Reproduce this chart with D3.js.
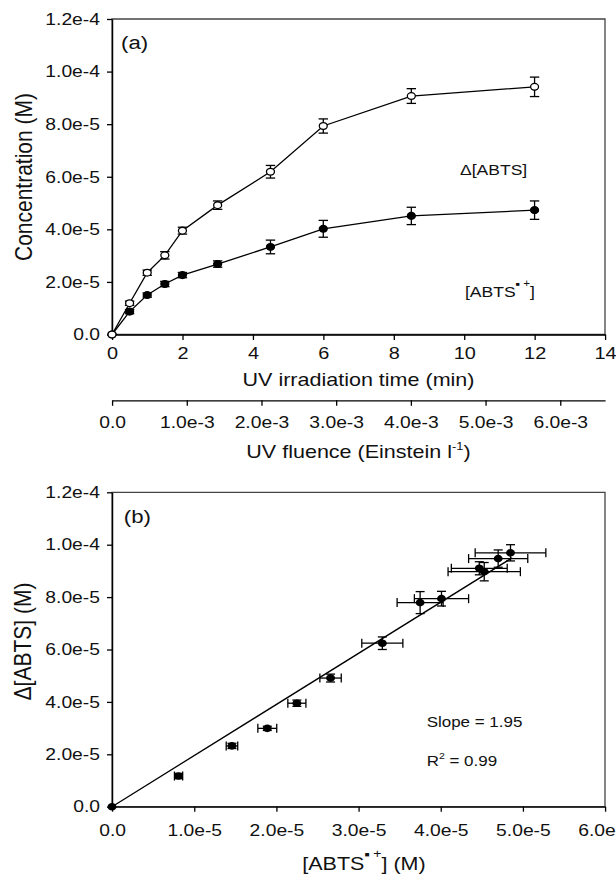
<!DOCTYPE html>
<html>
<head>
<meta charset="utf-8">
<script src="https://cdn.jsdelivr.net/npm/d3@7"></script>
<style>
  body { margin: 0; background: #fff; }
  svg line, svg path, svg rect, svg circle { vector-effect: non-scaling-stroke; }
</style>
</head>
<body>
<script>
// ---- data (a): concentrations vs UV irradiation time
const timeMin = [0, 0.5, 1, 1.5, 2, 3, 4.5, 6, 8.5, 12];
const deltaAbts = [0, 1.19e-5, 2.35e-5, 3.01e-5, 3.95e-5, 4.92e-5, 6.19e-5, 7.93e-5, 9.07e-5, 9.42e-5];
const deltaAbtsErr = [0, 0.8e-6, 1.0e-6, 1.4e-6, 1.3e-6, 1.6e-6, 2.4e-6, 2.7e-6, 2.8e-6, 3.7e-6];
const radical = [0, 0.87e-5, 1.50e-5, 1.92e-5, 2.26e-5, 2.68e-5, 3.33e-5, 4.02e-5, 4.51e-5, 4.73e-5];
const radicalErr = [0, 0.8e-6, 0.8e-6, 1.0e-6, 1.0e-6, 1.2e-6, 2.6e-6, 3.2e-6, 3.3e-6, 3.5e-6];

// ---- data (b): delta[ABTS] vs [ABTS.+]
const corrX = [0, 0.81e-5, 1.46e-5, 1.89e-5, 2.25e-5, 2.66e-5, 3.29e-5, 3.75e-5, 4.01e-5, 4.47e-5, 4.53e-5, 4.70e-5, 4.85e-5];
const corrXErr = [0, 0.05e-5, 0.07e-5, 0.115e-5, 0.11e-5, 0.13e-5, 0.25e-5, 0.28e-5, 0.33e-5, 0.34e-5, 0.44e-5, 0.36e-5, 0.43e-5];
const corrY = [0, 1.17e-5, 2.32e-5, 2.99e-5, 3.95e-5, 4.91e-5, 6.24e-5, 7.79e-5, 7.94e-5, 9.10e-5, 8.97e-5, 9.47e-5, 9.69e-5];
const corrYErr = [0, 0.1e-5, 0.1e-5, 0.08e-5, 0.12e-5, 0.15e-5, 0.24e-5, 0.42e-5, 0.28e-5, 0.25e-5, 0.35e-5, 0.33e-5, 0.31e-5];
const fitX = [0, 4.87e-5];
const fitY = [0, 9.5e-5];

// ---- ticks
const concTicks = [0, 2e-5, 4e-5, 6e-5, 8e-5, 1e-4, 1.2e-4];
const concTickLabels = ["0.0", "2.0e-5", "4.0e-5", "6.0e-5", "8.0e-5", "1.0e-4", "1.2e-4"];
const timeTicks = [0, 2, 4, 6, 8, 10, 12, 14];
const fluenceTicks = [0, 1e-3, 2e-3, 3e-3, 4e-3, 5e-3, 6e-3];
const fluenceTickLabels = ["0.0", "1.0e-3", "2.0e-3", "3.0e-3", "4.0e-3", "5.0e-3", "6.0e-3"];
const radTicks = [0, 1e-5, 2e-5, 3e-5, 4e-5, 5e-5, 6e-5];
const radTickLabels = ["0.0", "1.0e-5", "2.0e-5", "3.0e-5", "4.0e-5", "5.0e-5", "6.0e-5"];

// the source figure is a bit wider than tall, so stretch the drawing horizontally
const K = 1.17;
const W = 616, H = 878;
const hx = v => v / K;
const FONT = "'Liberation Sans', Arial, Helvetica, sans-serif";
const TICK_FONT = 16.5;

const svg = d3.select("body")
  .append("svg")
  .attr("width", W)
  .attr("height", H)
  .attr("viewBox", `0 0 ${W / K} ${H}`)
  .attr("preserveAspectRatio", "none")
  .style("font-family", FONT)
  .attr("fill", "#111");

const left = hx(112), right = hx(605);

// scales
const xTime = d3.scaleLinear().domain([0, 14]).range([left, right]);
const xFluence = d3.scaleLinear().domain([0, 6.6e-3]).range([left, right]);
const yTop = d3.scaleLinear().domain([0, 1.2e-4]).range([334.5, 19]);
const xRad = d3.scaleLinear().domain([0, 6e-5]).range([left, right]);
const yBot = d3.scaleLinear().domain([0, 1.2e-4]).range([806.7, 492.3]);

function styleAxis(g, size) {
  g.select(".domain").attr("stroke", "#000").attr("stroke-width", 1.3);
  g.selectAll(".tick line").attr("stroke", "#000").attr("stroke-width", 1.3);
  g.selectAll(".tick text")
    .attr("font-family", FONT)
    .attr("font-size", size)
    .attr("fill", "#111");
}

function frame(yScale) {
  svg.append("rect")
    .attr("x", left)
    .attr("y", yScale.range()[1])
    .attr("width", right - left)
    .attr("height", yScale.range()[0] - yScale.range()[1])
    .attr("fill", "none")
    .attr("stroke", "#444")
    .attr("stroke-width", 1.3);
}

// ================= panel (a) =================
frame(yTop);

svg.append("g")
  .attr("transform", `translate(${left},0)`)
  .call(d3.axisLeft(yTop).tickValues(concTicks).tickFormat((d, i) => concTickLabels[i])
    .tickSize(hx(5)).tickSizeOuter(0).tickPadding(hx(7)))
  .call(g => styleAxis(g, TICK_FONT));

svg.append("g")
  .attr("transform", `translate(0,${yTop(0)})`)
  .call(d3.axisBottom(xTime).tickValues(timeTicks).tickFormat(d3.format("d"))
    .tickSize(5.5).tickSizeOuter(0).tickPadding(7))
  .call(g => styleAxis(g, 17));

svg.append("g")
  .attr("transform", "translate(0,400.3)")
  .call(d3.axisBottom(xFluence).tickValues(fluenceTicks).tickFormat((d, i) => fluenceTickLabels[i])
    .tickSize(5.5).tickSizeOuter(0).tickPadding(10))
  .call(g => styleAxis(g, TICK_FONT));

function drawSeries(values, errors, filled) {
  const pts = timeMin.map((t, i) => ({ t: t, v: values[i], e: errors[i] }));

  svg.append("path")
    .datum(pts)
    .attr("d", d3.line().x(d => xTime(d.t)).y(d => yTop(d.v)))
    .attr("fill", "none")
    .attr("stroke", "#000")
    .attr("stroke-width", 1.3);

  const bars = svg.append("g")
    .attr("stroke", "#000")
    .attr("stroke-width", 1.3)
    .selectAll("g")
    .data(pts.filter(d => d.e > 0))
    .join("g");
  bars.append("line")
    .attr("x1", d => xTime(d.t)).attr("x2", d => xTime(d.t))
    .attr("y1", d => yTop(d.v - d.e)).attr("y2", d => yTop(d.v + d.e));
  for (const sign of [-1, 1]) {
    bars.append("line")
      .attr("x1", d => xTime(d.t) - hx(4.7)).attr("x2", d => xTime(d.t) + hx(4.7))
      .attr("y1", d => yTop(d.v + sign * d.e)).attr("y2", d => yTop(d.v + sign * d.e));
  }

  svg.append("g")
    .selectAll("circle")
    .data(pts)
    .join("circle")
    .attr("cx", d => xTime(d.t))
    .attr("cy", d => yTop(d.v))
    .attr("r", 3.4)
    .attr("fill", filled ? "#000" : "#fff")
    .attr("stroke", "#000")
    .attr("stroke-width", 1.3);
}

drawSeries(radical, radicalErr, true);
drawSeries(deltaAbts, deltaAbtsErr, false);

// titles and labels (a)
svg.append("text")
  .attr("x", hx(121)).attr("y", 49.5)
  .attr("font-size", 19)
  .text("(a)");

svg.append("text")
  .attr("x", hx(460)).attr("y", 175)
  .attr("font-size", 15)
  .text("Δ[ABTS]");

const radLabel = svg.append("text")
  .attr("x", hx(465)).attr("y", 296.7)
  .attr("font-size", 15);
radLabel.append("tspan").text("[ABTS");
radLabel.append("tspan").attr("font-size", 6).attr("dy", -11).text("■");
radLabel.append("tspan").attr("font-size", 10).attr("dy", 1).text(" +");
radLabel.append("tspan").attr("dy", 10).text("]");

svg.append("text")
  .attr("x", hx(358.5)).attr("y", 386)
  .attr("text-anchor", "middle")
  .attr("font-size", 18.4)
  .text("UV irradiation time (min)");

const fluTitle = svg.append("text")
  .attr("x", hx(358.5)).attr("y", 458)
  .attr("text-anchor", "middle")
  .attr("font-size", 18.4);
fluTitle.append("tspan").text("UV fluence (Einstein l");
fluTitle.append("tspan").attr("font-size", 11).attr("dy", -8).text("-1");
fluTitle.append("tspan").attr("dy", 8).text(")");

svg.append("text")
  .attr("transform", `translate(${hx(31.5)},177) rotate(-90)`)
  .attr("text-anchor", "middle")
  .attr("font-size", 21)
  .text("Concentration (M)");

// ================= panel (b) =================
frame(yBot);

svg.append("g")
  .attr("transform", `translate(${left},0)`)
  .call(d3.axisLeft(yBot).tickValues(concTicks).tickFormat((d, i) => concTickLabels[i])
    .tickSize(hx(5)).tickSizeOuter(0).tickPadding(hx(7)))
  .call(g => styleAxis(g, TICK_FONT));

svg.append("g")
  .attr("transform", `translate(0,${yBot(0)})`)
  .call(d3.axisBottom(xRad).tickValues(radTicks).tickFormat((d, i) => radTickLabels[i])
    .tickSize(5).tickSizeOuter(0).tickPadding(12.5))
  .call(g => styleAxis(g, TICK_FONT));

// fitted line
svg.append("path")
  .datum(fitX.map((x, i) => [x, fitY[i]]))
  .attr("d", d3.line().x(d => xRad(d[0])).y(d => yBot(d[1])))
  .attr("fill", "none")
  .attr("stroke", "#000")
  .attr("stroke-width", 1.3);

const corr = corrX.map((x, i) => ({ x: x, y: corrY[i], ex: corrXErr[i], ey: corrYErr[i] }));

const errG = svg.append("g").attr("stroke", "#000").attr("stroke-width", 1.3);
const withErr = corr.filter(d => d.ex > 0 || d.ey > 0);
// horizontal bars
const hb = errG.append("g").selectAll("g").data(withErr).join("g");
hb.append("line")
  .attr("x1", d => xRad(d.x - d.ex)).attr("x2", d => xRad(d.x + d.ex))
  .attr("y1", d => yBot(d.y)).attr("y2", d => yBot(d.y));
for (const sign of [-1, 1]) {
  hb.append("line")
    .attr("x1", d => xRad(d.x + sign * d.ex)).attr("x2", d => xRad(d.x + sign * d.ex))
    .attr("y1", d => yBot(d.y) - 4.5).attr("y2", d => yBot(d.y) + 4.5);
}
// vertical bars
const vb = errG.append("g").selectAll("g").data(withErr).join("g");
vb.append("line")
  .attr("x1", d => xRad(d.x)).attr("x2", d => xRad(d.x))
  .attr("y1", d => yBot(d.y - d.ey)).attr("y2", d => yBot(d.y + d.ey));
for (const sign of [-1, 1]) {
  vb.append("line")
    .attr("x1", d => xRad(d.x) - hx(4.5)).attr("x2", d => xRad(d.x) + hx(4.5))
    .attr("y1", d => yBot(d.y + sign * d.ey)).attr("y2", d => yBot(d.y + sign * d.ey));
}

svg.append("g")
  .selectAll("circle")
  .data(corr)
  .join("circle")
  .attr("cx", d => xRad(d.x))
  .attr("cy", d => yBot(d.y))
  .attr("r", 3.8)
  .attr("fill", "#000");

// titles and labels (b)
svg.append("text")
  .attr("x", hx(123.8)).attr("y", 522.7)
  .attr("font-size", 19)
  .text("(b)");

svg.append("text")
  .attr("x", hx(426.7)).attr("y", 726.7)
  .attr("font-size", 14.5)
  .text("Slope = 1.95");

const r2 = svg.append("text")
  .attr("x", hx(426.7)).attr("y", 766)
  .attr("font-size", 14.5);
r2.append("tspan").text("R");
r2.append("tspan").attr("font-size", 9).attr("dy", -7).text("2");
r2.append("tspan").attr("dy", 7).text(" = 0.99");

const xbTitle = svg.append("text")
  .attr("x", hx(364)).attr("y", 870)
  .attr("text-anchor", "middle")
  .attr("font-size", 18.4);
xbTitle.append("tspan").text("[ABTS");
xbTitle.append("tspan").attr("font-size", 7).attr("dy", -13).text("■");
xbTitle.append("tspan").attr("font-size", 12).attr("dy", 1).text(" +");
xbTitle.append("tspan").attr("dy", 12).text("] (M)");

svg.append("text")
  .attr("transform", `translate(${hx(31)},641.5) rotate(-90)`)
  .attr("text-anchor", "middle")
  .attr("font-size", 21)
  .text("Δ[ABTS] (M)");
</script>
</body>
</html>
